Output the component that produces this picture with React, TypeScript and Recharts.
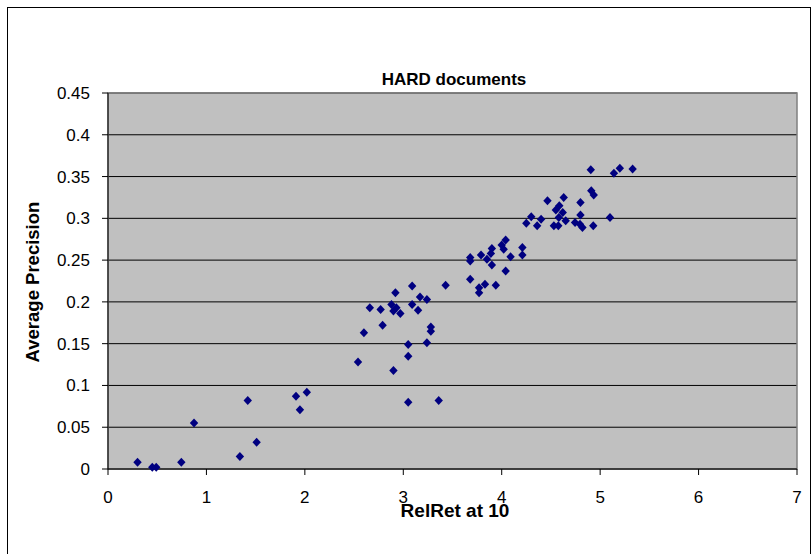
import React from "react";
import {
  ScatterChart, Scatter, XAxis, YAxis, CartesianGrid, ReferenceArea,
} from "recharts";

const xTicks = [0, 1, 2, 3, 4, 5, 6, 7];
const yTicks = [0, 0.05, 0.1, 0.15, 0.2, 0.25, 0.3, 0.35, 0.4, 0.45];

// RelRet at 10
const relRet = [
  0.30, 0.45, 0.49, 0.745, 0.874, 1.34, 1.42, 1.51, 1.91, 1.95, 2.02,
  2.54, 2.60, 2.66, 2.77, 2.79, 2.88, 2.90, 2.90, 2.92, 2.93, 2.97, 3.05, 3.05, 3.05,
  3.09, 3.09, 3.15, 3.17, 3.24, 3.24, 3.28, 3.28, 3.36, 3.43,
  3.68, 3.68, 3.68, 3.77, 3.77, 3.79, 3.83, 3.85, 3.89, 3.90, 3.90, 3.94,
  4.00, 4.02, 4.04, 4.04, 4.09, 4.21, 4.21, 4.25, 4.30, 4.36, 4.40, 4.465,
  4.53, 4.55, 4.575, 4.58, 4.585, 4.62, 4.63, 4.65, 4.745, 4.795, 4.80, 4.80,
  4.82, 4.905, 4.91, 4.935, 4.93, 5.10, 5.14, 5.20, 5.33,
];

// Average Precision
const avgPrec = [
  0.008, 0.002, 0.002, 0.008, 0.055, 0.015, 0.082, 0.032, 0.087, 0.071, 0.092,
  0.128, 0.163, 0.193, 0.191, 0.172, 0.197, 0.189, 0.118, 0.211, 0.193, 0.186, 0.149, 0.135, 0.080,
  0.219, 0.197, 0.190, 0.206, 0.203, 0.151, 0.170, 0.165, 0.082, 0.220,
  0.227, 0.253, 0.249, 0.217, 0.211, 0.256, 0.221, 0.251, 0.258, 0.264, 0.244, 0.220,
  0.268, 0.263, 0.274, 0.237, 0.254, 0.265, 0.256, 0.294, 0.302, 0.291, 0.299, 0.321,
  0.291, 0.310, 0.291, 0.301, 0.315, 0.307, 0.325, 0.297, 0.295, 0.293, 0.319, 0.304,
  0.289, 0.358, 0.333, 0.328, 0.291, 0.301, 0.354, 0.360, 0.359,
];

const points = relRet.map((x, i) => ({ x, y: avgPrec[i] }));

const FONT = "'Liberation Sans', Arial, sans-serif";

const Diamond = (props: any) => {
  const { cx, cy } = props;
  if (cx == null || cy == null) return null;
  return (
    <polygon
      points={`${cx},${cy - 4.5} ${cx + 4.2},${cy} ${cx},${cy + 4.5} ${cx - 4.2},${cy}`}
      fill="#000080"
    />
  );
};

export default function App() {
  return (
    <div style={{ position: "absolute", left: 0, top: 0, width: 812, height: 554, background: "#fff", fontFamily: FONT }}>
      <div style={{
        position: "absolute", left: 7, top: 7, width: 804, height: 547,
        boxSizing: "border-box", border: "1px solid #000", borderBottom: "none",
      }} />
      <ScatterChart width={812} height={554} margin={{ top: 93, right: 15, bottom: 45, left: 10 }}
        style={{ position: "absolute", left: 0, top: 0 }}>
        <CartesianGrid vertical={false} fill="#C0C0C0" stroke="#000" strokeWidth={1} fillOpacity={1} />
        <XAxis type="number" dataKey="x" domain={[0, 7]} ticks={xTicks} height={40}
          stroke="#000" tickSize={6} tickMargin={16}
          tick={{ fontSize: 17, fill: "#000", fontFamily: FONT }} />
        <YAxis type="number" dataKey="y" domain={[0, 0.45]} ticks={yTicks} width={98}
          stroke="#000" tickSize={6} tickMargin={12}
          tick={{ fontSize: 17, fill: "#000", fontFamily: FONT }} />
        <ReferenceArea x1={0} x2={7} y1={0} y2={0.45} fill="none" stroke="#808080" strokeWidth={1.5} />
        <Scatter data={points} shape={<Diamond />} isAnimationActive={false} />
      </ScatterChart>
      <div style={{ position: "absolute", left: 254, width: 400, top: 70, textAlign: "center", fontWeight: "bold", fontSize: 17 }}>
        HARD documents
      </div>
      <div style={{ position: "absolute", left: 255, width: 400, top: 500, textAlign: "center", fontWeight: "bold", fontSize: 19 }}>
        RelRet at 10
      </div>
      <div style={{
        position: "absolute", left: 33, top: 282, width: 300, marginLeft: -150, marginTop: -11, height: 22,
        lineHeight: "22px", textAlign: "center", fontWeight: "bold", fontSize: 18.5, transform: "rotate(-90deg)",
      }}>
        Average Precision
      </div>
    </div>
  );
}
